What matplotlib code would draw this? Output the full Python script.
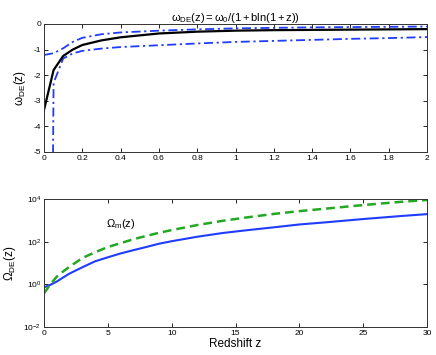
import matplotlib
matplotlib.use("Agg")
import matplotlib.pyplot as plt
import numpy as np

plt.rcParams['font.family'] = ['Liberation Sans', 'DejaVu Sans']
plt.rcParams['mathtext.fontset'] = 'custom'
plt.rcParams['mathtext.rm'] = 'Liberation Sans'
plt.rcParams['mathtext.it'] = 'Liberation Sans:italic'
plt.rcParams['mathtext.bf'] = 'Liberation Sans:bold'

# ---- top panel data ----
z_top = [0, 0.05, 0.1, 0.15, 0.2, 0.3, 0.4, 0.6, 0.8, 1.0, 1.2, 1.4, 1.6, 1.8, 2.0]
w_best = [-3.36, -1.8, -1.25, -1.0, -0.82, -0.64, -0.52, -0.37, -0.30, -0.26, -0.24, -0.23, -0.22, -0.21, -0.20]
w_upper = [-1.21, -1.14, -0.95, -0.70, -0.54, -0.40, -0.33, -0.26, -0.21, -0.17, -0.15, -0.13, -0.12, -0.11, -0.10]
w_lower = [-50.0, -2.3, -1.35, -1.15, -1.05, -0.96, -0.90, -0.83, -0.76, -0.70, -0.66, -0.62, -0.58, -0.55, -0.51]
top_xticks = [0, 0.2, 0.4, 0.6, 0.8, 1, 1.2, 1.4, 1.6, 1.8, 2]
top_xticklabels = ['0', '0.2', '0.4', '0.6', '0.8', '1', '1.2', '1.4', '1.6', '1.8', '2']
top_yticks = [0, -1, -2, -3, -4, -5]
top_yticklabels = ['0', '-1', '-2', '-3', '-4', '-5']

# ---- bottom panel data ----
z_bot = [0, 0.5, 1, 1.5, 2, 3, 4, 5, 6, 7, 8, 9, 10, 12, 14, 16, 18, 20, 22, 25, 28, 30]
omega_de = [0.72, 0.95, 1.35, 2.1, 3.2, 6.3, 12, 18.5, 28, 40, 56, 80, 105, 170, 255, 350, 470, 640, 800, 1150, 1600, 1950]
omega_m = [0.38, 1.0, 2.3, 4.0, 6.7, 17, 32, 56, 85, 130, 185, 260, 350, 600, 950, 1400, 2000, 2700, 3500, 5200, 7400, 9000]
bot_xticks = [0, 5, 10, 15, 20, 25, 30]
bot_yticks = [1e-2, 1e0, 1e2, 1e4]

fig = plt.figure(figsize=(4.36, 3.55), dpi=100)
ax1 = fig.add_axes([44/436, 1-152/355, 383/436, 128/355])
ax2 = fig.add_axes([44/436, 1-327/355, 383/436, 128/355])

blue = '#1f3cff'
green = '#22a822'

ax1.plot(z_top, w_upper, color=blue, lw=1.3, linestyle=(0, (5, 2, 1.2, 2)))
ax1.plot(z_top, w_lower, color=blue, lw=1.3, linestyle=(0, (5, 2, 1.2, 2)))
ax1.plot(z_top, w_best, color='black', lw=1.6)
ax1.set_xlim(0, 2)
ax1.set_ylim(-5, 0)
ax1.set_xticks(top_xticks)
ax1.set_xticklabels(top_xticklabels)
ax1.set_yticks(top_yticks)
ax1.set_yticklabels(top_yticklabels)
ax1.set_title(r'$\mathrm{ω_{DE}(z)=ω_0/(1+bln(1+z))}$', fontsize=8, pad=2)
ax1.set_ylabel(r'$\mathrm{ω_{DE}(z)}$', fontsize=8.5, labelpad=4)

ax2.plot(z_bot, omega_de, color=blue, lw=1.5)
ax2.plot(z_bot, omega_m, color=green, lw=1.8, linestyle=(0, (3.5, 2)))
ax2.set_yscale('log')
ax2.set_xlim(0, 30)
ax2.set_ylim(1e-2, 1e4)
ax2.set_xticks(bot_xticks)
ax2.set_yticks(bot_yticks)
ax2.yaxis.set_minor_locator(matplotlib.ticker.NullLocator())
ax2.set_ylabel(r'$\mathrm{Ω_{DE}(z)}$', fontsize=8.5, labelpad=4)
ax2.set_xlabel('Redshift z', fontsize=8.5, labelpad=1)
ax2.text(6.0, 680, r'$\mathrm{Ω_m(z)}$', fontsize=8, ha='center', va='center')

for ax in (ax1, ax2):
    ax.tick_params(direction='in', top=True, right=True, length=3, width=0.6,
                   labelsize=6, pad=2, colors='black')
    for s in ax.spines.values():
        s.set_linewidth(0.7)
        s.set_color('#333333')

fig.savefig('out.png', dpi=100)
